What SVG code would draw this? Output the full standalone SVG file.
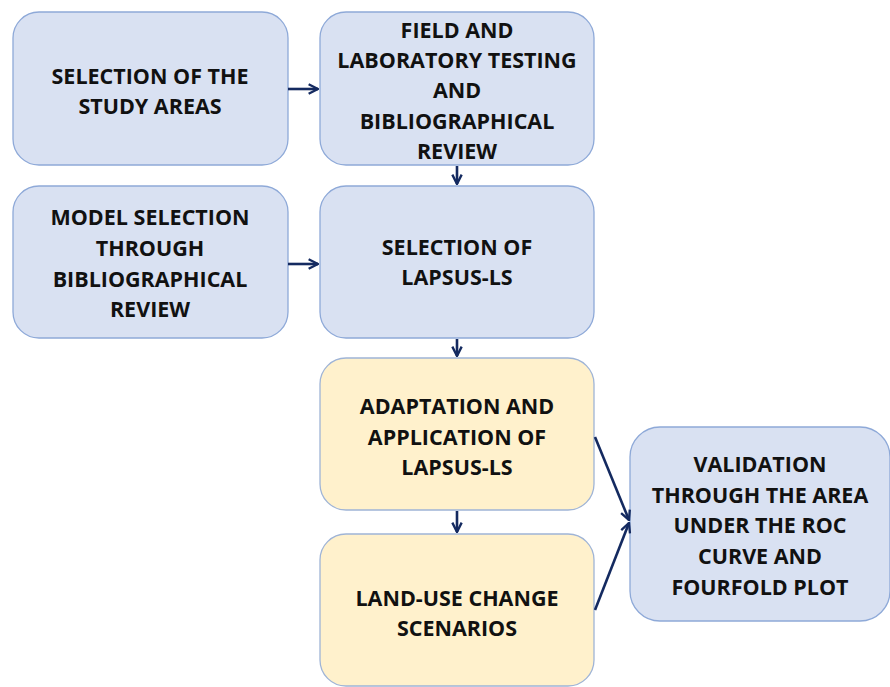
<svg xmlns="http://www.w3.org/2000/svg" width="890" height="687" viewBox="0 0 890 687">
<defs>
<style>
.b{fill:#D9E1F2;stroke:#8EA9D8;stroke-width:1.3}
.y{fill:#FFF1CC;stroke:#9FB4D6;stroke-width:1.3}
text{font-family:"Open Sans","Liberation Sans",sans-serif;font-weight:bold;font-size:21.5px;fill:#111;text-anchor:middle;dominant-baseline:central}
.c{stroke:#142A60;stroke-width:2.6;fill:none}
</style>
<marker id="ah" viewBox="0 0 10 10" refX="9" refY="5" markerWidth="4.5" markerHeight="4.5" orient="auto" markerUnits="strokeWidth">
<path d="M1,1 L9,5 L1,9" fill="none" stroke="#142A60" stroke-width="2"/>
</marker>
</defs>
<rect width="890" height="687" fill="#fff"/>
<g id="n1"><rect class="b" x="13" y="12" width="275" height="153" rx="26"/>
<text x="150" y="75">SELECTION OF THE</text><text x="150" y="105">STUDY AREAS</text></g>
<g id="n2"><rect class="b" x="320" y="12" width="274" height="153" rx="26"/>
<text x="457" y="29">FIELD AND</text><text x="457" y="59">LABORATORY TESTING</text><text x="457" y="89">AND</text><text x="457" y="120">BIBLIOGRAPHICAL</text><text x="457" y="150">REVIEW</text></g>
<g id="n3"><rect class="b" x="13" y="186" width="275" height="152" rx="26"/>
<text x="150" y="216">MODEL SELECTION</text><text x="150" y="247">THROUGH</text><text x="150" y="278">BIBLIOGRAPHICAL</text><text x="150" y="308">REVIEW</text></g>
<g id="n4"><rect class="b" x="320" y="186" width="274" height="152" rx="26"/>
<text x="457" y="246">SELECTION OF</text><text x="457" y="276">LAPSUS-LS</text></g>
<g id="n5"><rect class="y" x="320" y="358" width="274" height="152" rx="26"/>
<text x="457" y="405">ADAPTATION AND</text><text x="457" y="436">APPLICATION OF</text><text x="457" y="466">LAPSUS-LS</text></g>
<g id="n6"><rect class="y" x="320" y="534" width="274" height="152" rx="26"/>
<text x="457" y="597">LAND-USE CHANGE</text><text x="457" y="627">SCENARIOS</text></g>
<g id="n7"><rect class="b" x="630" y="427" width="260" height="194" rx="30"/>
<text x="760" y="463">VALIDATION</text><text x="760" y="494">THROUGH THE AREA</text><text x="760" y="524">UNDER THE ROC</text><text x="760" y="555">CURVE AND</text><text x="760" y="586">FOURFOLD PLOT</text></g>
<g id="connectors">
<line class="c" x1="288" y1="89" x2="318" y2="89" marker-end="url(#ah)"/>
<line class="c" x1="288" y1="264" x2="318" y2="264" marker-end="url(#ah)"/>
<line class="c" x1="457" y1="166" x2="457" y2="184" marker-end="url(#ah)"/>
<line class="c" x1="457" y1="339" x2="457" y2="356" marker-end="url(#ah)"/>
<line class="c" x1="457" y1="511" x2="457" y2="532" marker-end="url(#ah)"/>
<line class="c" x1="595" y1="437" x2="629" y2="520" marker-end="url(#ah)"/>
<line class="c" x1="595" y1="610" x2="629" y2="523" marker-end="url(#ah)"/>
</g>
</svg>
